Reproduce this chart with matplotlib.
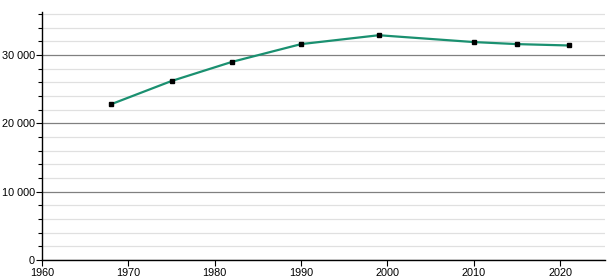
import matplotlib
matplotlib.use("Agg")
import matplotlib.pyplot as plt
from matplotlib.ticker import MultipleLocator, FuncFormatter

years = [1968, 1975, 1982, 1990, 1999, 2010, 2015, 2021]
population = [22800, 26200, 29000, 31600, 32900, 31900, 31600, 31400]

plt.rcParams["font.family"] = ["Liberation Sans", "DejaVu Sans"]

fig = plt.figure(figsize=(6.15, 2.8), dpi=100)
ax = fig.add_axes([42 / 615, 20 / 280, 563 / 615, 248 / 280])

ax.plot(years, population, color="#1a9070", linewidth=1.6, zorder=3)
ax.plot(years, population, linestyle="none", marker="s", markersize=3.5,
        color="black", zorder=4)

ax.set_xlim(1960, 2025.2)
ax.set_ylim(0, 36300)
ax.xaxis.set_major_locator(MultipleLocator(10))
ax.yaxis.set_major_locator(MultipleLocator(10000))
ax.yaxis.set_minor_locator(MultipleLocator(2000))
ax.yaxis.set_major_formatter(FuncFormatter(lambda v, p: f"{int(v):,}".replace(",", " ")))

ax.grid(axis="y", which="major", color="#808080", linewidth=0.9, zorder=1)
ax.grid(axis="y", which="minor", color="#e0e0e0", linewidth=0.9, zorder=1)

for side in ("top", "right"):
    ax.spines[side].set_visible(False)
ax.spines["left"].set_linewidth(1)
ax.spines["bottom"].set_linewidth(1)
ax.tick_params(labelsize=7.8, length=4, width=0.8, colors="black")
ax.tick_params(axis="y", pad=1)
ax.tick_params(axis="x", pad=2)
ax.tick_params(which="minor", length=3, width=0.8)

fig.savefig("out.png", dpi=100)
